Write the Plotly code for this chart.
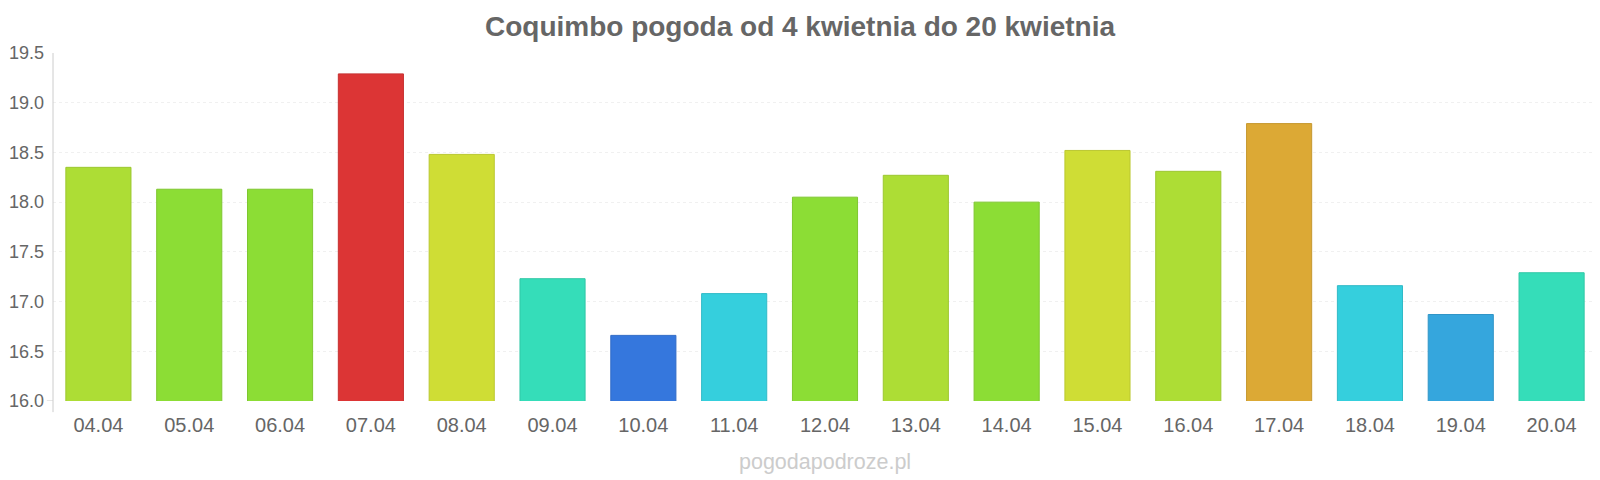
import plotly.graph_objects as go

dates = ["04.04", "05.04", "06.04", "07.04", "08.04", "09.04", "10.04", "11.04", "12.04",
         "13.04", "14.04", "15.04", "16.04", "17.04", "18.04", "19.04", "20.04"]
temps = [18.35, 18.13, 18.13, 19.29, 18.48, 17.23, 16.66, 17.08, 18.05,
         18.27, 18.00, 18.52, 18.31, 18.79, 17.16, 16.87, 17.29]
colors = ["#addd35", "#8cdd35", "#8cdd35", "#dc3535", "#cfdd35", "#35ddb9", "#3577dd", "#35cfdd", "#8cdd35",
          "#addd35", "#8cdd35", "#cfdd35", "#addd35", "#dca935", "#35cfdd", "#35a6dd", "#35ddb9"]
borders = ["#9cc730", "#7ec730", "#7ec730", "#c63030", "#bac730", "#30c7a6", "#306bc7", "#30bac7", "#7ec730",
           "#9cc730", "#7ec730", "#bac730", "#9cc730", "#c69830", "#30bac7", "#3095c7", "#30c7a6"]
yticks = [16.0, 16.5, 17.0, 17.5, 18.0, 18.5, 19.0, 19.5]

fig = go.Figure(go.Bar(
    x=dates, y=temps,
    marker=dict(color=colors, line=dict(color=borders, width=1)),
    hoverinfo="x+y",
))

fig.update_layout(
    width=1600, height=480,
    margin=dict(l=45, r=11, t=45, b=87),
    paper_bgcolor="white", plot_bgcolor="white",
    bargap=0.283,
    showlegend=False,
    font=dict(family="Liberation Sans, Arial, sans-serif", color="#666666"),
    title=dict(text="<b>Coquimbo pogoda od 4 kwietnia do 20 kwietnia</b>",
               x=0.495, xanchor="center", y=0.963, yanchor="middle",
               font=dict(size=28, color="#666666")),
    xaxis=dict(showgrid=False, showline=False, zeroline=False, ticks="", automargin=False,
               ticklabelstandoff=10,
               tickfont=dict(size=20, color="#666666")),
    yaxis=dict(range=[16.0, 19.5], tickvals=yticks, ticktext=[f"{v:.1f}" for v in yticks],
               showgrid=True, gridcolor="#f0f0f0", griddash="dot", gridwidth=1,
               showline=False, zeroline=False, ticks="", ticklabelstandoff=8, automargin=False,
               tickfont=dict(size=18, color="#666666")),
    shapes=[dict(type="line", xref="paper", yref="paper", x0=0, x1=0, y0=-0.032, y1=1,
                 line=dict(color="#cccccc", width=1)),
            dict(type="line", xref="paper", yref="y", x0=-0.004, x1=0, y0=16.0, y1=16.0,
                 line=dict(color="#cccccc", width=1))],
    annotations=[dict(text="pogodapodroze.pl", xref="paper", yref="paper",
                      x=0.5, y=-0.175, xanchor="center", yanchor="middle", showarrow=False,
                      font=dict(size=21.5, color="#cccccc"))],
)

fig.write_html("out.html")
